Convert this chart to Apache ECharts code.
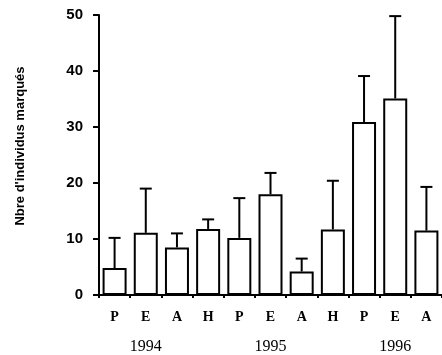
<!DOCTYPE html>
<html>
<head>
<meta charset="utf-8">
<script src="https://cdn.jsdelivr.net/npm/echarts@6/dist/echarts.min.js"></script>
<style>html,body{margin:0;padding:0;background:#fff}#c{width:442px;height:355px}</style>
</head>
<body>
<div id="c"></div>
<script>
const seasons = ['P','E','A','H','P','E','A','H','P','E','A'];
const yearLabels = ['', '1994', '', '', '', '1995', '', '', '', '1996', ''];
const means = [4.8, 11.1, 8.5, 11.8, 10.2, 18.0, 4.2, 11.7, 30.9, 35.1, 11.5];
const upper = [10.2, 19.0, 11.0, 13.5, 17.3, 21.8, 6.5, 20.4, 39.1, 49.8, 19.3];
const yTicks = [0, 10, 20, 30, 40, 50];

const chart = echarts.init(document.getElementById('c'), null, {renderer:'canvas'});
const errData = means.map((m, i) => [i, m, upper[i]]);
chart.setOption({
  animation: false,
  backgroundColor: '#fff',
  grid: {left: 99, right: -2, top: 15, bottom: 60},
  xAxis: {
    type: 'category',
    data: seasons,
    axisLine: {lineStyle: {color: '#000', width: 2}},
    axisTick: {show: true, length: 3, lineStyle: {color: '#000', width: 2}},
    axisLabel: {
      interval: 0,
      margin: 8,
      formatter: (v, i) => '{s|' + v + '}\n{y|' + (yearLabels[i] || ' ') + '}',
      rich: {
        s: {fontFamily: 'Liberation Serif', fontWeight: 'bold', fontSize: 14, color: '#000', lineHeight: 29},
        y: {fontFamily: 'Liberation Serif', fontSize: 16, color: '#000', lineHeight: 29}
      }
    }
  },
  yAxis: {
    type: 'value',
    min: yTicks[0],
    max: yTicks[yTicks.length - 1],
    interval: 10,
    name: "Nbre d'individus marqués",
    nameLocation: 'middle',
    nameGap: 72,
    nameTextStyle: {fontFamily: 'Liberation Sans', fontWeight: 'bold', fontSize: 13, color: '#000', padding: [0, 0, 0, 18]},
    axisLine: {show: true, lineStyle: {color: '#000', width: 2}},
    axisTick: {show: true, length: 6, lineStyle: {color: '#000', width: 2}},
    axisLabel: {margin: 16, fontFamily: 'Liberation Sans', fontWeight: 'bold', fontSize: 15, color: '#000'},
    splitLine: {show: false}
  },
  series: [
    {
      type: 'bar',
      data: means,
      barWidth: 24,
      itemStyle: {color: '#fff', borderColor: '#000', borderWidth: 2},
      z: 2
    },
    {
      type: 'custom',
      data: errData,
      z: 3,
      renderItem: (params, api) => {
        const x = api.value(0);
        const p0 = api.coord([x, api.value(1)]);
        const p1 = api.coord([x, api.value(2)]);
        return {
          type: 'group',
          children: [
            {type: 'line', shape: {x1: p0[0], y1: p0[1], x2: p1[0], y2: p1[1]}, style: {stroke: '#000', lineWidth: 2}},
            {type: 'line', shape: {x1: p1[0] - 6, y1: p1[1], x2: p1[0] + 6, y2: p1[1]}, style: {stroke: '#000', lineWidth: 2}}
          ]
        };
      }
    }
  ]
});
</script>
</body>
</html>
